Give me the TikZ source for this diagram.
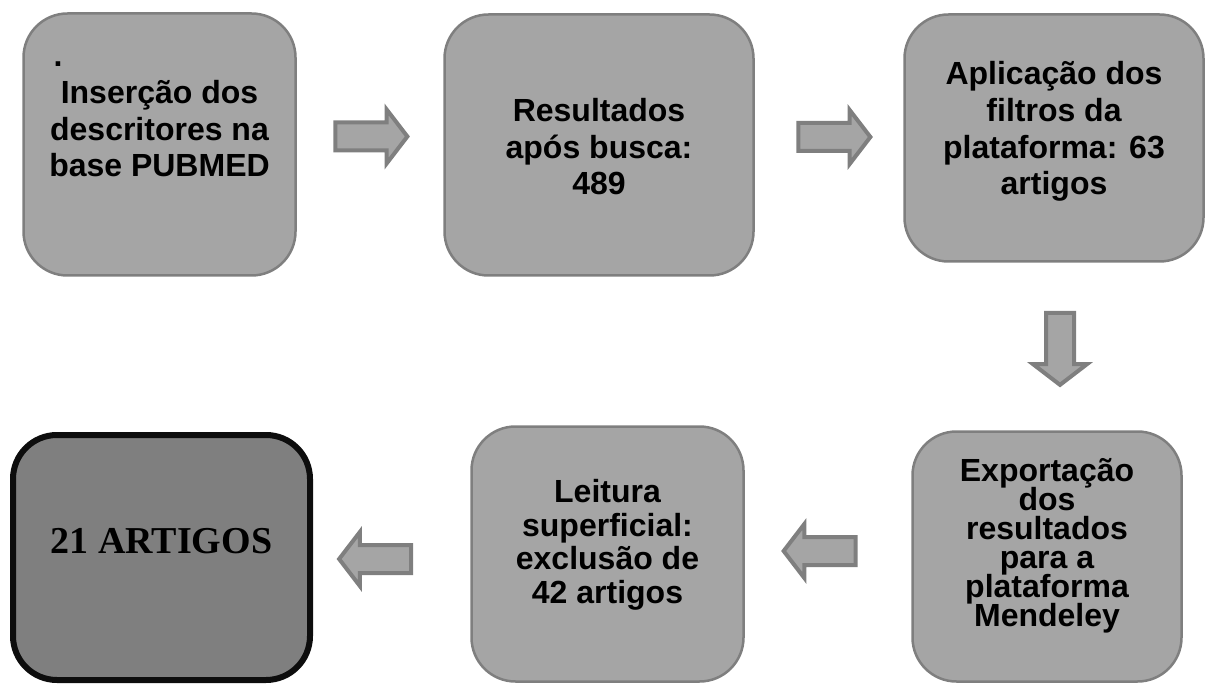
\documentclass[tikz,border=0pt]{standalone}
\usepackage{fontspec}
\setmainfont{Liberation Sans}
\newfontfamily\serifbold{Liberation Serif}
\usetikzlibrary{shapes.arrows}

\definecolor{cinzaclaro}{HTML}{A5A5A5}
\definecolor{cinzaborda}{HTML}{7F7F7F}
\definecolor{cinzaescuro}{HTML}{7F7F7F}
\definecolor{quasepreto}{HTML}{0D0D0D}
\newcommand\apertado{\lineskiplimit=-10pt\relax}

\begin{document}
\begin{tikzpicture}[
    x=1pt, y=1pt,
    box/.style={rectangle, rounded corners=44pt, draw=cinzaborda, line width=2.5pt, fill=cinzaclaro, align=center, inner sep=0pt, text depth=0pt, font=\bfseries\fontsize{32}{36.7}\selectfont},
    seta/.style={single arrow, draw=cinzaborda, line width=4pt, fill=cinzaclaro, minimum height=72pt, inner sep=0pt, inner ysep=12pt, single arrow head extend=13pt, single arrow tip angle=105}
]
\useasboundingbox (0,0) rectangle (1209,686);

% linha de cima
\node[box, minimum width=272pt, minimum height=262pt, text height=65pt] (insercao) at (159.5,541.5) {\makebox[212pt][l]{.}\\Inserção dos\\descritores na\\base PUBMED};
\node[box, minimum width=309pt, minimum height=261pt, text height=100pt] (resultados) at (599,541) {Resultados\\após busca:\\489};
\node[box, minimum width=299pt, minimum height=247pt, text height=114pt] (filtros) at (1054,548) {Aplicação dos\\filtros da\\plataforma: 63\\artigos};

% linha de baixo
\node[box, minimum width=269pt, minimum height=250pt, text height=139pt, font={\bfseries\fontsize{32}{29}\selectfont\apertado}] (exportacao) at (1047,129.5) {Exportação\\dos\\resultados\\para a\\plataforma\\Mendeley};
\node[box, minimum width=272pt, minimum height=255pt, text height=98pt, font=\bfseries\fontsize{32}{33.4}\selectfont] (leitura) at (607.5,132) {Leitura\\superficial:\\exclusão de\\42 artigos};
\node[box, minimum width=297pt, minimum height=245pt, text height=0pt, text depth=9pt, fill=cinzaescuro, draw=quasepreto, line width=6pt, font=\serifbold\bfseries\fontsize{38}{40}\selectfont] (artigos) at (161.5,128.5) {21 ARTIGOS};

% setas
\node[seta] (seta1) at (366,549.5) {};
\node[seta] (seta2) at (829,549) {};
\node[seta, rotate=-90] (seta3) at (1060,342.5) {};
\node[seta, rotate=180] (seta4) at (825,135) {};
\node[seta, rotate=180] (seta5) at (380.5,127) {};

\end{tikzpicture}
\end{document}
